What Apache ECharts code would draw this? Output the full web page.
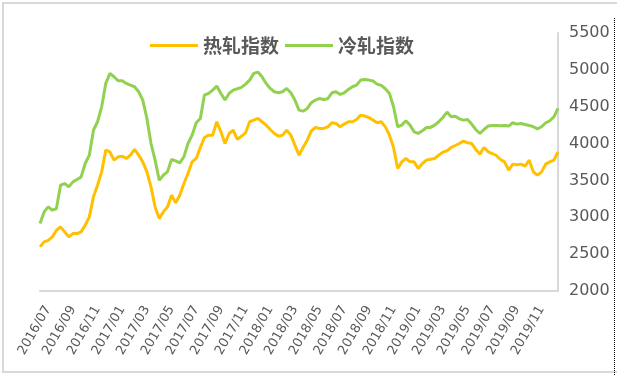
<!DOCTYPE html>
<html>
<head>
  <meta charset="utf-8">
  <title>热轧冷轧指数</title>
  <style>
  html, body { margin: 0; padding: 0; background: #fff; }
  #chart { width: 617px; height: 376px; }
  </style>
</head>
<body>
  <div id="chart"></div>
  <script src="https://cdn.jsdelivr.net/npm/echarts@6/dist/echarts.min.js"></script>
  <script>
  // 读数间隔：每月 1、11、21 日，起于 2016/06/11
  const hotRolled = [
    2598, 2666, 2688, 2734, 2824, 2870, 2802, 2734, 2779, 2779, 2802, 2892,
    3005, 3277, 3436, 3616, 3911, 3888, 3775, 3820, 3829, 3798, 3843, 3920,
    3843, 3752, 3616, 3413, 3141, 2983, 3073, 3141, 3300, 3195, 3300, 3458,
    3594, 3752, 3798, 3947, 4083, 4114, 4114, 4296, 4160, 4001, 4137, 4182,
    4056, 4101, 4146, 4296, 4318, 4341, 4296, 4250, 4191, 4137, 4101, 4114,
    4182, 4114, 3979, 3843, 3947, 4047, 4173, 4218, 4205, 4205, 4227, 4282,
    4273, 4227, 4264, 4296, 4296, 4327, 4386, 4373, 4354, 4318, 4282, 4296,
    4227, 4114, 3947, 3662, 3752, 3798, 3752, 3752, 3662, 3730, 3775, 3788,
    3798, 3843, 3884, 3902, 3947, 3974, 4001, 4033, 4010, 4001, 3920, 3857,
    3947, 3888, 3865, 3838, 3784, 3752, 3639, 3721, 3712, 3721, 3693, 3775,
    3616, 3571, 3616, 3721, 3752, 3775, 3888
  ];
  const coldRolled = [
    2915, 3073, 3141, 3096, 3119, 3436, 3458, 3413, 3481, 3512, 3548, 3730,
    3843, 4182, 4296, 4499, 4816, 4952, 4907, 4852, 4852, 4816, 4793, 4771,
    4703, 4590, 4341, 4001, 3775, 3503, 3571, 3616, 3784, 3766, 3739, 3820,
    4001, 4114, 4282, 4341, 4658, 4680, 4726, 4780, 4680, 4590, 4680, 4726,
    4744, 4762, 4807, 4861, 4952, 4970, 4907, 4816, 4748, 4703, 4689, 4703,
    4748, 4689, 4590, 4454, 4440, 4477, 4554, 4590, 4612, 4599, 4608, 4689,
    4703, 4667, 4689, 4735, 4771, 4793, 4861, 4870, 4861, 4848, 4807, 4789,
    4744, 4680, 4499, 4228, 4250, 4309, 4250, 4160, 4137, 4173, 4218, 4219,
    4250, 4296, 4354, 4427, 4363, 4372, 4336, 4318, 4327, 4264, 4191, 4137,
    4191, 4237, 4246, 4246, 4241, 4246, 4237, 4282, 4264, 4273, 4259, 4246,
    4228, 4200, 4228, 4282, 4309, 4363, 4477
  ];
  const yTicks = [2000, 2500, 3000, 3500, 4000, 4500, 5000, 5500];

  // 日期类目
  const dates = [];
  for (let k = 0; k < hotRolled.length; k++) {
    const t = k + 1;
    const m = 5 + Math.floor(t / 3);
    const y = 2016 + Math.floor(m / 12);
    const mm = String(m % 12 + 1).padStart(2, '0');
    const dd = ['01', '11', '21'][t % 3];
    dates.push(y + '/' + mm + '/' + dd);
  }

  const textColor = '#595959';
  const axisColor = '#d9d9d9';

  const option = {
    backgroundColor: '#fff',
    animation: false,
    legend: {
      top: 31,
      left: 145,
      itemWidth: 48,
      itemHeight: 3,
      itemGap: 6,
      icon: 'rect',
      textStyle: {
        color: textColor,
        fontSize: 19,
        fontWeight: 'bold',
        fontFamily: 'Noto Sans CJK SC'
      },
      data: ['热轧指数', '冷轧指数']
    },
    grid: {
      left: 40,
      right: 59,
      top: 33,
      bottom: 85
    },
    xAxis: {
      type: 'category',
      boundaryGap: false,
      data: dates,
      axisLine: { lineStyle: { color: axisColor, width: 2 } },
      axisTick: { show: false },
      axisLabel: {
        rotate: 60,
        margin: 16,
        color: textColor,
        fontSize: 13,
        fontFamily: 'DejaVu Sans',
        interval: (idx, v) => v.endsWith('/01') && Number(v.slice(5, 7)) % 2 === 1,
        formatter: (v) => v.slice(0, 7)
      }
    },
    yAxis: {
      type: 'value',
      position: 'right',
      min: yTicks[0],
      max: yTicks[yTicks.length - 1],
      interval: 500,
      splitLine: { show: false },
      axisLine: { show: true, lineStyle: { color: axisColor, width: 2 } },
      axisTick: { show: false },
      axisLabel: {
        margin: 11,
        color: textColor,
        fontSize: 16,
        fontFamily: 'DejaVu Sans',
        formatter: (v) => String(v)
      }
    },
    series: [{
      name: '热轧指数',
      type: 'line',
      data: hotRolled,
      showSymbol: false,
      color: '#FFC000',
      lineStyle: { width: 3 }
    }, {
      name: '冷轧指数',
      type: 'line',
      data: coldRolled,
      showSymbol: false,
      color: '#92D050',
      lineStyle: { width: 3 }
    }],
    graphic: [{
      type: 'rect',
      shape: { x: 3, y: 3, width: 620, height: 369 },
      style: { fill: 'none', stroke: '#d9d9d9', lineWidth: 2 },
      silent: true
    }, {
      type: 'line',
      shape: { x1: 614.5, y1: 18, x2: 614.5, y2: 376 },
      style: { stroke: '#000', lineWidth: 1, lineDash: [1, 1] },
      silent: true
    }]
  };

  const myChart = echarts.init(document.getElementById('chart'));
  myChart.setOption(option);
  </script>
</body>
</html>
